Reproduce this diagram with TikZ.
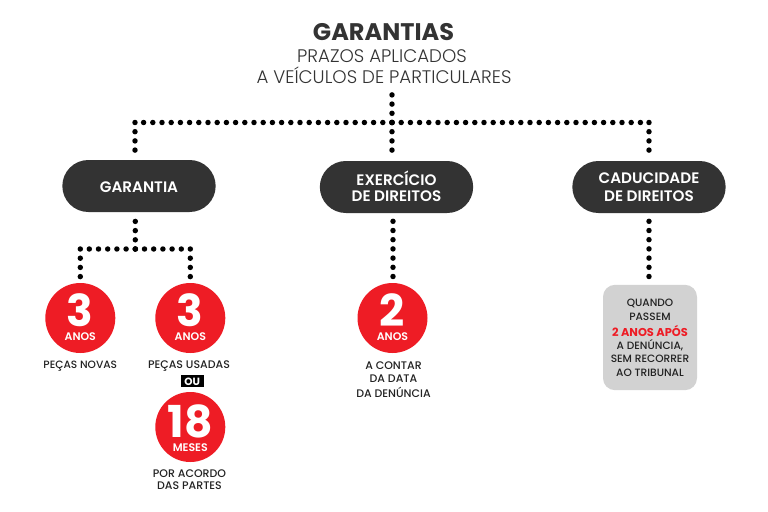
\documentclass[tikz,border=0pt]{standalone}
\usepackage{fontspec}
\setmainfont{Poppins}
\newfontfamily\lightf{Poppins Light}
\newfontfamily\medf{Poppins Medium}
\newfontfamily\semif{Poppins SemiBold}
\newfontfamily\boldf{Poppins}[UprightFont=* Bold]
\newcommand{\fpx}[1]{\fontsize{\dimexpr#1pt*3/4\relax}{\dimexpr#1pt*3/4\relax}\selectfont}
\definecolor{darkpill}{HTML}{333333}
\definecolor{redc}{HTML}{EE1C25}
\definecolor{greybox}{HTML}{D2D2D2}
\definecolor{inkc}{HTML}{222222}
\tikzset{
  dotline/.style={line width=4.1pt,line cap=round,dash pattern=on 0pt off 6.9pt,black},
  pill/.style={rounded rectangle,fill=darkpill,minimum width=115pt,minimum height=39pt,inner sep=0pt},
  pilltext/.style={text=white,font=\semif\fpx{15.2},inner sep=0pt},
  redcircle/.style={circle,fill=redc,minimum size=52.5pt,inner sep=0pt},
  bignum/.style={text=white,inner sep=0pt,font=\boldf\fpx{44}},
  unitlabel/.style={text=white,inner sep=0pt,font=\semif\fpx{11}},
  caption/.style={text=inkc,inner sep=0pt,align=center,font=\medf\fpx{10.6}},
  captionb/.style={text=inkc,inner sep=0pt,align=center,font=\medf\fpx{11}},
}
\usetikzlibrary{shapes.misc}
\begin{document}
\begin{tikzpicture}[x=0.75pt,y=-0.75pt]
\useasboundingbox (0,0) rectangle (768,511);
\node[text=darkpill,inner sep=0pt,font=\boldf\fpx{24}] (title) at (383.5,32.3) {GARANTIAS};
\node[text=darkpill,inner sep=0pt,font=\lightf\fpx{18.2}] (sub1) at (382,56.5) {PRAZOS APLICADOS};
\node[text=darkpill,inner sep=0pt,font=\lightf\fpx{18.2}] (sub2) at (384,75) {A VEÍCULOS DE PARTICULARES};
% pills
\node[pill] (gar) at (139,186) {};
\node[pilltext] (gart) at (139,187) {GARANTIA};
\node[pill] (exe) at (396.5,187) {};
\node[pilltext] (exe1) at (396.5,178.5) {EXERCÍCIO};
\node[pilltext] (exe2) at (396.5,196.5) {DE DIREITOS};
\node[pill] (cad) at (649,187) {};
\node[pilltext] (cad1) at (649,178) {CADUCIDADE};
\node[pilltext] (cad2) at (649,196) {DE DIREITOS};
% junctions
\coordinate (bc) at (392,122.5);
\coordinate (bl) at (135,122.5);
\coordinate (br) at (649,122.5);
\coordinate (jg) at (135.3,249);
\coordinate (jl) at (80.3,249);
\coordinate (jr) at (190.3,249);
% circles
\node[redcircle] (c1) at (80.3,318) {};
\node[redcircle] (c2) at (190.3,318) {};
\node[redcircle] (c3) at (190.3,427) {};
\node[redcircle] (c4) at (392.5,318) {};
\node[bignum] (n1) at (80.3,310.5) {3};
\node[unitlabel] (u1) at (80.3,337) {ANOS};
\node[bignum] (n2) at (190.3,310.5) {3};
\node[unitlabel] (u2) at (190.3,337) {ANOS};
\node[bignum] (n3) at (190.3,421) {18};
\node[unitlabel] (u3) at (190.3,448) {MESES};
\node[bignum] (n4) at (392.5,310.5) {2};
\node[unitlabel] (u4) at (392.5,337) {ANOS};
% grey box
\node[fill=greybox,rounded corners=9pt,minimum width=70.5pt,minimum height=79pt,inner sep=0pt] (box) at (650,337.5) {};
% connectors
\draw[dotline] (bc) -- (bl);
\draw[dotline] (bc) -- (br);
\draw[dotline,shorten >=4pt] (bc) -- (sub2.south -| bc);
\draw[dotline,shorten >=2pt] (bc) -- (bc |- exe.north);
\draw[dotline,shorten >=3pt] (bl) -- (bl |- gar.north);
\draw[dotline,shorten >=3pt] (br) -- (br |- cad.north);
\draw[dotline] (jg) -- (jl);
\draw[dotline] (jg) -- (jr);
\draw[dotline,shorten >=3pt] (jg) -- (jg |- gar.south);
\draw[dotline,shorten >=4pt] (jl) -- (c1.north);
\draw[dotline,shorten >=4pt] (jr) -- (c2.north);
\coordinate (ex0) at (393,276.5);
\coordinate (ca0) at (649,276.5);
\draw[dotline,shorten >=3pt] (ex0) -- (ex0 |- exe.south);
\draw[dotline,shorten >=3pt] (ca0) -- (ca0 |- cad.south);
% captions
\node[caption] at (80.3,366.5) {PEÇAS NOVAS};
\node[captionb] at (189,366.5) {PEÇAS USADAS};
\node[fill=black,inner sep=0pt,minimum width=17.25pt,minimum height=9pt] (oubox) at (192.2,381) {};
\node[text=white,inner sep=0pt,font=\boldf\fpx{10.5}] at (192.2,381.7) {OU};
\node[captionb] at (189.5,473.5) {POR ACORDO};
\node[captionb] at (189.5,486) {DAS PARTES};
\node[captionb] at (393.5,366) {A CONTAR};
\node[captionb] at (393.5,379) {DA DATA};
\node[captionb] at (393.5,392) {DA DENÚNCIA};
\node[caption] at (650,303) {QUANDO};
\node[caption] at (650,317) {PASSEM};
\node[caption,text=redc,font=\boldf\fpx{11.4}] at (650,330.5) {2 ANOS APÓS};
\node[caption] at (650,345) {A DENÚNCIA,};
\node[caption] at (650,359) {SEM RECORRER};
\node[caption] at (650,373) {AO TRIBUNAL};
\end{tikzpicture}
\end{document}
